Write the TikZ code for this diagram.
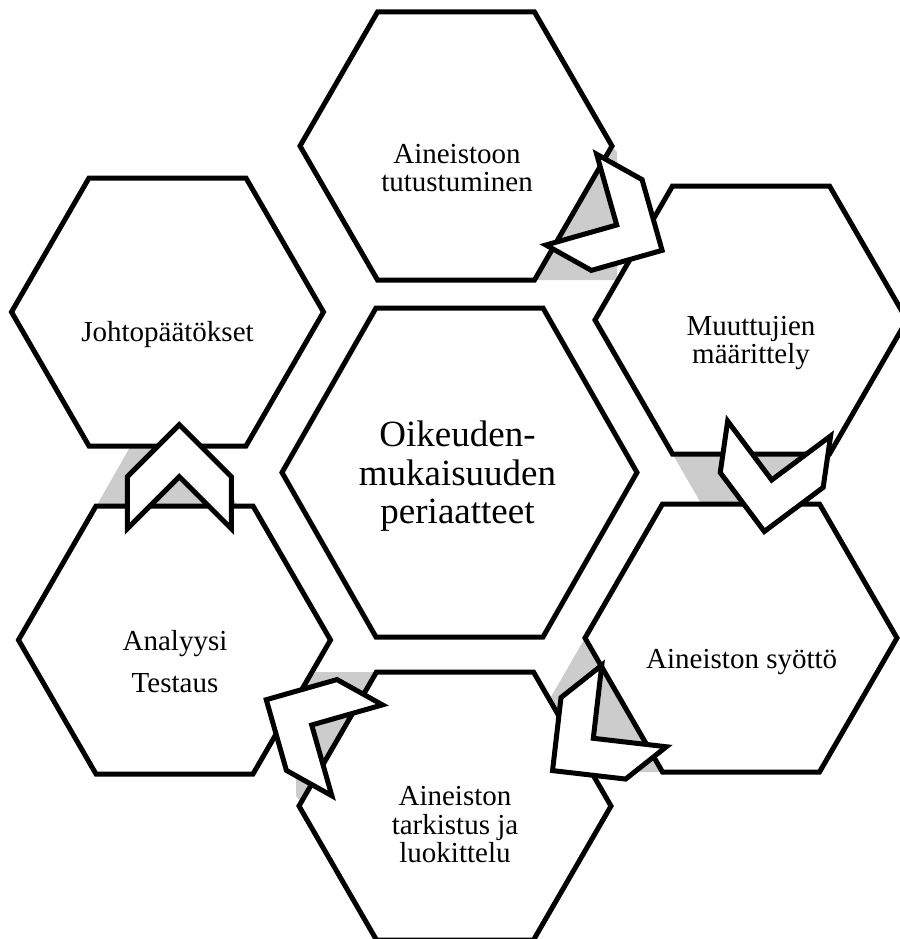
\documentclass[tikz,border=0pt]{standalone}
\usepackage{fontspec}
\setmainfont{Liberation Serif}
\tikzset{
  hexs/.style={draw=black, fill=white, line width=5pt, line join=miter},
  gapfill/.style={fill=black!20, draw=none},
  chev/.style={draw=black, fill=white, line width=5pt, line join=miter},
  lbl/.style={anchor=base, inner sep=0pt, font=\fontsize{29}{30}\selectfont},
  clbl/.style={anchor=base, inner sep=0pt, font=\fontsize{37}{38}\selectfont},
}
\newcommand{\outerhex}[1]{\draw[hexs, shift={(#1)}] (-78.5,-134) -- (78.5,-134) -- (156,0) -- (78.5,134) -- (-78.5,134) -- (-156,0) -- cycle;}
\newcommand{\chevshape}[3]{\draw[chev, shift={(#1,#2)}, rotate=#3] (-52,-52) -- (0,-52) -- (52,0) -- (0,52) -- (-52,52) -- (0,0) -- cycle;}
\begin{document}
\begin{tikzpicture}[x=1pt,y=-1pt]
\useasboundingbox (0,0) rectangle (899,939);
% hexagon centres
\coordinate (hc) at (459.5,472.5);
\coordinate (h1) at (456,146);
\coordinate (h2) at (751,320);
\coordinate (h3) at (741,638);
\coordinate (h4) at (455,806);
\coordinate (h5) at (174.5,640);
\coordinate (h6) at (167.5,312);
% grey gap fills (behind hexagons)
\fill[gapfill] (600,135) -- (617,152) -- (617,280) -- (530,280) -- cycle;
\fill[gapfill] (672.5,454) -- (829.5,454) -- (798.3,508) -- (703.7,508) -- cycle;
\fill[gapfill] (600,625) -- (585,638) -- (546.3,705) -- (588,772) -- (662.5,772) -- (690,760) -- cycle;
\fill[gapfill] (296,672) -- (376.5,672) -- (380,680) -- (310,800) -- (305,807) -- (296,796) -- cycle;
\fill[gapfill] (134,440) -- (202.3,440) -- (239.7,510) -- (94.2,510) -- cycle;
% hexagons
\draw[hexs, shift={(hc)}] (-83.5,-164.5) -- (83.5,-164.5) -- (177.5,0) -- (83.5,164.5) -- (-83.5,164.5) -- (-177.5,0) -- cycle;
\outerhex{h1}
\outerhex{h2}
\outerhex{h3}
\outerhex{h4}
\outerhex{h5}
\outerhex{h6}
% texts
\node[clbl] (c1) at (457.5,446.7) {Oikeuden-};
\node[clbl] (c2) at (457.5,485) {mukaisuuden};
\node[clbl] (c3) at (457.5,523.3) {periaatteet};
\node[lbl] (t1a) at (457,163) {Aineistoon};
\node[lbl] (t1b) at (457,191.7) {tutustuminen};
\node[lbl] (t2a) at (751,335) {Muuttujien};
\node[lbl] (t2b) at (751,363.3) {määrittely};
\node[lbl] (t3) at (741.7,668.3) {Aineiston syöttö};
\node[lbl] (t4a) at (455,805) {Aineiston};
\node[lbl] (t4b) at (455,834) {tarkistus ja};
\node[lbl] (t4c) at (455,862.7) {luokittelu};
\node[lbl] (t5a) at (175,650) {Analyysi};
\node[lbl] (t5b) at (175,692) {Testaus};
\node[lbl] (t6) at (167.5,341.7) {Johtopäätökset};
% chevron arrows
\chevshape{616.7}{225}{-29.2}
\chevshape{771.7}{480}{-98.2}
\chevshape{593.3}{738.3}{-141.6}
\chevshape{311.7}{725}{150.9}
\chevshape{179.3}{476.7}{90}
\end{tikzpicture}
\end{document}
